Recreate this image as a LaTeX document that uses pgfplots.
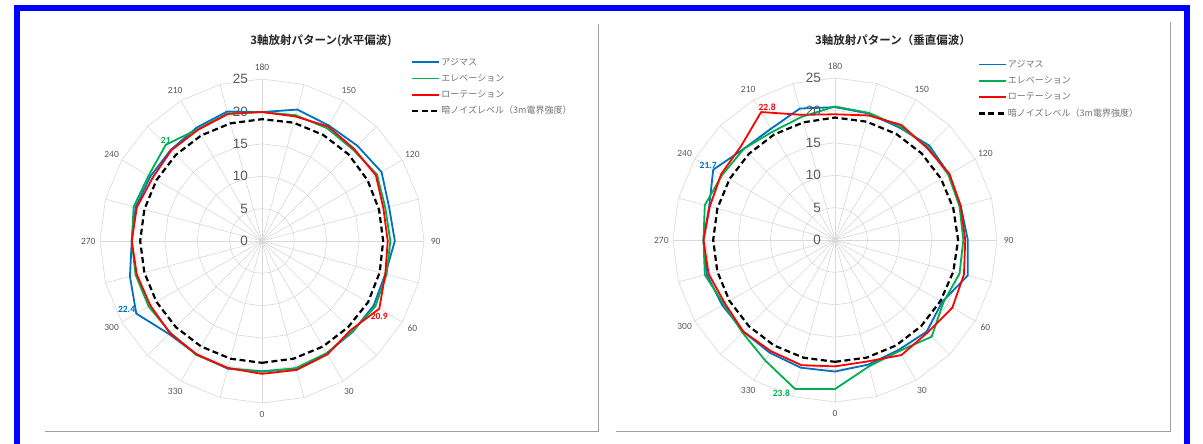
\documentclass[border=0pt]{standalone}
\usepackage{fontspec}
\setmainfont{Carlito}
\newfontfamily\jp{Noto Sans CJK JP}[BoldFont={* Bold}]
\newfontfamily\arialf{Liberation Sans}
\usepackage{pgfplots}
\usepackage{pgfplotstable}
\pgfplotsset{compat=1.18}
\usepgfplotslibrary{polar}

\definecolor{cblue}{RGB}{0,112,192}
\definecolor{cgreen}{RGB}{0,176,80}
\definecolor{cred}{RGB}{255,0,0}
\definecolor{lblgray}{RGB}{89,89,89}
\definecolor{gridgray}{RGB}{217,217,217}
\definecolor{panelgray}{RGB}{160,160,160}
\definecolor{framebl}{RGB}{0,0,255}

% L = direction label (deg), B = azimuth, G = elevation, R = rotation, N = noise
\pgfplotstableread{
L   B    G    R    N
0   20.1 20.2 20.5 18.8
15  20.4 20.3 20.6 18.8
30  20.0 20.0 20.2 18.8
45  19.8 19.7 19.4 18.8
60  19.9 20.2 20.9 18.9
75  19.7 19.9 19.7 18.8
90  20.5 19.8 19.4 18.7
105 20.3 19.7 19.4 18.7
120 21.3 20.5 20.3 18.8
135 20.8 19.9 20.1 18.9
150 20.6 20.1 20.4 18.9
165 21.0 20.1 19.9 18.9
180 19.9 19.9 19.9 18.8
195 20.7 20.4 20.3 18.8
210 20.2 19.9 19.8 18.8
225 19.9 21.0 19.8 18.8
240 19.9 20.2 19.5 18.8
255 20.2 20.5 20.0 18.8
270 20.1 20.1 20.1 18.8
285 21.1 20.2 20.0 18.8
300 22.4 20.2 19.9 18.8
315 20.3 20.0 20.1 18.8
330 20.2 20.3 20.2 18.8
345 20.4 20.3 20.3 18.8
360 20.1 20.2 20.5 18.8
}\dataH

\pgfplotstableread{
L   B    G    R    N
0   20.3 23.0 19.5 18.8
15  19.9 20.2 19.4 18.8
30  19.6 19.8 20.5 18.8
45  20.0 21.1 20.2 18.8
60  19.1 19.3 20.9 18.8
75  21.2 19.9 20.6 18.9
90  20.5 19.8 20.1 19.0
105 20.1 19.9 20.1 18.9
120 20.3 20.2 20.4 18.9
135 20.6 20.3 20.1 18.9
150 20.0 20.2 20.5 18.9
165 20.2 20.3 19.9 18.9
180 20.5 20.6 19.4 18.9
195 21.0 19.7 20.0 18.8
210 19.8 19.3 22.8 18.8
225 19.9 19.9 20.5 18.8
240 21.7 20.1 20.3 18.8
255 20.1 20.8 20.0 18.8
270 20.3 20.3 20.3 18.8
285 20.5 20.8 20.2 18.8
300 20.1 19.8 19.6 18.8
315 20.0 20.2 20.0 18.8
330 20.1 21.5 19.8 18.8
345 20.4 23.8 20.0 18.8
360 20.3 23.0 19.5 18.8
}\dataV

\tikzset{
  lab/.style={font=\fontsize{9.5}{10}\selectfont, text=lblgray, anchor=center, inner sep=0pt},
  rlab/.style={font=\arialf\fontsize{13.5}{14}\selectfont, text=lblgray, anchor=east, inner sep=0pt, xshift=-14pt},
  sB/.style={cblue, line width=1.8pt, line join=round},
  sG/.style={cgreen, line width=1.8pt, line join=round},
  sR/.style={cred, line width=1.8pt, line join=round},
  sN/.style={black, line width=2.2pt, dash pattern=on 6pt off 3.5pt, line join=round},
  dl/.style={font=\bfseries\fontsize{9.5}{10}\selectfont, inner sep=1pt},
  gl/.style={gridgray, line width=0.6pt},
}

\pgfplotsset{
  radar/.style={
    scale only axis, width=324pt, height=324pt,
    xmin=-90, xmax=270, ymin=0, ymax=25,
    xtick=\empty, ytick=\empty,
    axis line style={draw=none},
    clip=false,
    anchor=center,
    legend cell align=left,
    legend style={draw=none, fill=none, anchor=north west,
      font=\jp\fontsize{9}{10}\selectfont, text=black!55,
      row sep=4.8pt, inner sep=0pt,
      nodes={inner sep=1pt, text height=7.5pt, text depth=2pt}},
    legend image code/.code={\draw[##1] (0pt,0pt) -- (27pt,0pt);},
  },
}

\newcommand\radargrid{%
  \pgfplotsinvokeforeach{-90,-75,...,255}{\draw[gl] (axis cs:##1,0) -- (axis cs:##1,25);}
  \pgfplotsinvokeforeach{5,10,...,25}{\draw[gl] (axis cs:-90,##1) \foreach \a in {-75,-60,...,255} { -- (axis cs:\a,##1) } -- cycle;}
}

\newcommand\anglabels{%
  \node[lab] at (axis cs:-90,26.8) {0};
  \node[lab] at (axis cs:-60,26.8) {30};
  \node[lab] at (axis cs:-30,26.8) {60};
  \node[lab] at (axis cs:0,26.8) {90};
  \node[lab] at (axis cs:30,26.8) {120};
  \node[lab] at (axis cs:60,26.8) {150};
  \node[lab] at (axis cs:90,26.8) {180};
  \node[lab] at (axis cs:120,26.8) {210};
  \node[lab] at (axis cs:150,26.8) {240};
  \node[lab] at (axis cs:180,26.8) {270};
  \node[lab] at (axis cs:210,26.8) {300};
  \node[lab] at (axis cs:240,26.8) {330};
  \node[rlab] at (axis cs:90,0) {0};
  \node[rlab] at (axis cs:90,5) {5};
  \node[rlab] at (axis cs:90,10) {10};
  \node[rlab] at (axis cs:90,15) {15};
  \node[rlab] at (axis cs:90,20) {20};
  \node[rlab] at (axis cs:90,25) {25};
}

\begin{document}
\begin{tikzpicture}
\path[use as bounding box] (0pt,0pt) rectangle (1203pt,-444pt);
\fill[white] (0pt,0pt) rectangle (1203pt,-444pt);
\draw[framebl, line width=6.5pt] (17pt,-8pt) rectangle (1187pt,-470pt);

\draw[panelgray, line width=1pt] (598pt,-24pt) -- (598pt,-431pt) -- (45pt,-431pt);
\draw[panelgray, line width=1pt] (1170pt,-22pt) -- (1170pt,-431pt) -- (616pt,-431pt);

\node[font=\jp\bfseries\fontsize{11.5}{12}\selectfont, text=black!85] at (321pt,-41pt) {3軸放射パターン(水平偏波)};
\node[font=\jp\bfseries\fontsize{11.5}{12}\selectfont, text=black!85] at (893pt,-40pt) {3軸放射パターン（垂直偏波）};

\begin{polaraxis}[radar, at={(262pt,-241pt)},
  legend style={at={(0.96,1.07)}}]
  \radargrid
  \addplot[sB] table[x expr=\thisrow{L}-90, y=B] {\dataH};
  \addplot[sG] table[x expr=\thisrow{L}-90, y=G] {\dataH};
  \addplot[sR] table[x expr=\thisrow{L}-90, y=R] {\dataH};
  \addplot[sN] table[x expr=\thisrow{L}-90, y=N] {\dataH};
  \legend{アジマス, エレベーション, ローテーション, 暗ノイズレベル（3m電界強度）}
  \anglabels
  \node[dl, cgreen, anchor=south] at (axis cs:135,21) {21};
  \node[dl, cblue, anchor=south east] at (axis cs:210,22.4) {22.4};
  \node[dl, cred, anchor=north, yshift=-3pt] at (axis cs:-30,20.9) {20.9};
\end{polaraxis}

\begin{polaraxis}[radar, at={(835pt,-240pt)},
  legend style={at={(0.94,1.06)}}]
  \radargrid
  \addplot[sB] table[x expr=\thisrow{L}-90, y=B] {\dataV};
  \addplot[sG] table[x expr=\thisrow{L}-90, y=G] {\dataV};
  \addplot[sR] table[x expr=\thisrow{L}-90, y=R] {\dataV};
  \addplot[sN] table[x expr=\thisrow{L}-90, y=N] {\dataV};
  \legend{アジマス, エレベーション, ローテーション, 暗ノイズレベル（3m電界強度）}
  \anglabels
  \node[dl, cred, anchor=south, xshift=6pt] at (axis cs:120,22.8) {22.8};
  \node[dl, cblue, anchor=south, xshift=-5pt] at (axis cs:150,21.7) {21.7};
  \node[dl, cgreen, anchor=east, xshift=-4pt, yshift=-4pt] at (axis cs:255,23.8) {23.8};
\end{polaraxis}
\end{tikzpicture}
\end{document}
